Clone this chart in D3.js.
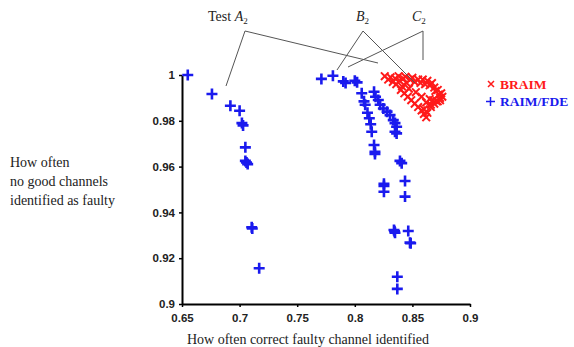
<!DOCTYPE html>
<html>
<head>
<meta charset="utf-8">
<script src="https://cdn.jsdelivr.net/npm/d3@7"></script>
<style>
  body { margin: 0; background: #fff; }
  .tick text { font-family: "Liberation Sans", Arial, sans-serif; font-weight: bold; font-size: 11.5px; }
  .lbl { font-family: "Liberation Serif", "Times New Roman", serif; font-size: 14px; fill: #222; }
</style>
</head>
<body>
<svg width="574" height="347"></svg>
<script>
// RAIM/FDE results (x = correct faulty channel identified, y = no good channel flagged)
var raimX = [0.655, 0.676, 0.692, 0.700, 0.702, 0.703, 0.705, 0.705, 0.706, 0.707, 0.7105, 0.711, 0.717,
  0.771, 0.781, 0.790, 0.792, 0.800, 0.802, 0.806, 0.808, 0.809, 0.811, 0.8126, 0.8138, 0.8147, 0.8167, 0.8175, 0.8175,
  0.8167, 0.818, 0.8204, 0.822, 0.8248, 0.828, 0.8306, 0.8334, 0.8349, 0.8363, 0.8349, 0.8363,
  0.8392, 0.8407, 0.8253, 0.8253, 0.8253, 0.8436, 0.8436, 0.834, 0.8349, 0.8345, 0.8464, 0.8479, 0.8485, 0.8369, 0.8369];
var raimY = [1.000, 0.9917, 0.9866, 0.9844, 0.979, 0.978, 0.9684, 0.9625, 0.9618, 0.9611, 0.9335, 0.933, 0.9156,
  0.9983, 0.9997, 0.9972, 0.9965, 0.9975, 0.9968, 0.992, 0.9885, 0.987, 0.9835, 0.9811, 0.9785, 0.9752, 0.9694, 0.9665, 0.9655,
  0.9927, 0.9905, 0.9891, 0.987, 0.9854, 0.984, 0.9825, 0.9803, 0.979, 0.9774, 0.9752, 0.9745,
  0.9625, 0.9615, 0.9525, 0.9515, 0.949, 0.9537, 0.9469, 0.9323, 0.9311, 0.9318, 0.9319, 0.9268, 0.9265, 0.9119, 0.9066];

// BRAIM results
var braimX = [0.826, 0.829, 0.831, 0.833, 0.835, 0.836, 0.838, 0.839, 0.841, 0.842, 0.844, 0.845, 0.847, 0.848, 0.850,
  0.852, 0.853, 0.855, 0.857, 0.858, 0.859, 0.861, 0.862, 0.863, 0.865, 0.866, 0.867, 0.869, 0.870, 0.872, 0.873,
  0.874, 0.875, 0.876, 0.874, 0.871, 0.868, 0.865,
  0.840, 0.843, 0.846, 0.849, 0.852, 0.855, 0.858, 0.860, 0.862, 0.863, 0.860, 0.872, 0.869, 0.866];
var braimY = [0.9995, 0.998, 0.999, 0.997, 0.9985, 0.996, 0.9995, 0.9975, 0.995, 0.9985, 0.9992, 0.9965, 0.994, 0.998, 0.9988,
  0.997, 0.9925, 0.998, 0.9965, 0.9905, 0.998, 0.996, 0.988, 0.9975, 0.9955, 0.986, 0.9965, 0.9945, 0.993, 0.9935, 0.9915,
  0.990, 0.992, 0.9905, 0.989, 0.9885, 0.989, 0.9895,
  0.9935, 0.992, 0.9905, 0.989, 0.9875, 0.986, 0.9845, 0.983, 0.9815, 0.9835, 0.985, 0.9885, 0.9875, 0.987];

var xTicks = [0.65, 0.7, 0.75, 0.8, 0.85, 0.9];
var xTickLabels = ["0.65", "0.7", "0.75", "0.8", "0.85", "0.9"];
var yTicks = [0.9, 0.92, 0.94, 0.96, 0.98, 1];
var yTickLabels = ["0.9", "0.92", "0.94", "0.96", "0.98", "1"];

var svg = d3.select("svg");

var x = d3.scaleLinear().domain([0.65, 0.9]).range([182, 470]);
var y = d3.scaleLinear().domain([0.9, 1]).range([304, 75]);

// axes
var xAxis = svg.append("g")
  .attr("transform", "translate(0,304)")
  .call(d3.axisBottom(x).tickValues(xTicks).tickSize(3).tickSizeOuter(0)
    .tickFormat(function(d, i) { return xTickLabels[i]; }));
var yAxis = svg.append("g")
  .attr("transform", "translate(182,0)")
  .call(d3.axisLeft(y).tickValues(yTicks).tickSize(3).tickSizeOuter(0)
    .tickFormat(function(d, i) { return yTickLabels[i]; }));

xAxis.select(".domain").attr("stroke-width", 2);
yAxis.select(".domain").attr("stroke-width", 2);
xAxis.selectAll(".tick line").attr("stroke-width", 1.5);
yAxis.selectAll(".tick line").attr("stroke-width", 1.5);
xAxis.selectAll(".tick text").attr("dy", "1em").attr("fill", "#222");
yAxis.selectAll(".tick text").attr("dx", "-1px").attr("fill", "#222");

// blue plus markers
var raim = raimX.map(function(d, i) { return [d, raimY[i]]; });
svg.append("g").selectAll("path")
  .data(raim)
  .enter()
  .append("path")
    .attr("d", "M-5.5,0H5.5M0,-5.5V5.5")
    .attr("transform", function(d) { return "translate(" + x(d[0]) + "," + y(d[1]) + ")"; })
    .attr("stroke", "#1a1aee")
    .attr("stroke-width", 2.6)
    .attr("fill", "none");

// red cross markers
var braim = braimX.map(function(d, i) { return [d, braimY[i]]; });
svg.append("g").selectAll("path")
  .data(braim)
  .enter()
  .append("path")
    .attr("d", "M-3.8,-3.8L3.8,3.8M-3.8,3.8L3.8,-3.8")
    .attr("transform", function(d) { return "translate(" + x(d[0]) + "," + y(d[1]) + ")"; })
    .attr("stroke", "#ff1a1a")
    .attr("stroke-width", 2)
    .attr("fill", "none");

// annotation lines
var ann = svg.append("g").attr("stroke", "#555").attr("stroke-width", 1).attr("fill", "none");
ann.append("path").attr("d", "M226,86L245,31L378,63");
ann.append("path").attr("d", "M337,70L363,31L415,83");
ann.append("path").attr("d", "M348,67L423,31L423,60");

// annotation labels
var t1 = svg.append("text").attr("class", "lbl").attr("x", 208).attr("y", 21);
t1.append("tspan").text("Test ");
t1.append("tspan").attr("font-style", "italic").text("A");
t1.append("tspan").attr("font-size", "9px").attr("dy", 3).text("2");

var t2 = svg.append("text").attr("class", "lbl").attr("x", 356).attr("y", 21);
t2.append("tspan").attr("font-style", "italic").text("B");
t2.append("tspan").attr("font-size", "9px").attr("dy", 3).text("2");

var t3 = svg.append("text").attr("class", "lbl").attr("x", 412).attr("y", 21);
t3.append("tspan").attr("font-style", "italic").text("C");
t3.append("tspan").attr("font-size", "9px").attr("dy", 3).text("2");

// axis titles
var yl = ["How often", "no good channels", "identified as faulty"];
svg.selectAll(".ylab")
  .data(yl)
  .enter()
  .append("text")
    .attr("class", "lbl ylab")
    .attr("x", 10)
    .attr("y", function(d, i) { return 167 + i * 19; })
    .text(function(d) { return d; });

svg.append("text")
  .attr("class", "lbl")
  .attr("x", 308)
  .attr("y", 344)
  .attr("text-anchor", "middle")
  .attr("font-size", "14.5px")
  .text("How often correct faulty channel identified");

// legend
var leg = svg.append("g").attr("font-family", "Liberation Serif, Times New Roman, serif").attr("font-weight", "bold").attr("font-size", "13.5px");
leg.append("path").attr("d", "M488,81L494,87M488,87L494,81").attr("stroke", "#ff1a1a").attr("stroke-width", 1.5);
leg.append("text").attr("x", 500).attr("y", 89).attr("fill", "#ff1a1a").text("BRAIM");
leg.append("path").attr("d", "M486,101.5H495M490.5,97V106").attr("stroke", "#1a1aee").attr("stroke-width", 1.5);
leg.append("text").attr("x", 500).attr("y", 106).attr("fill", "#1a1aee").text("RAIM/FDE");
</script>
</body>
</html>
